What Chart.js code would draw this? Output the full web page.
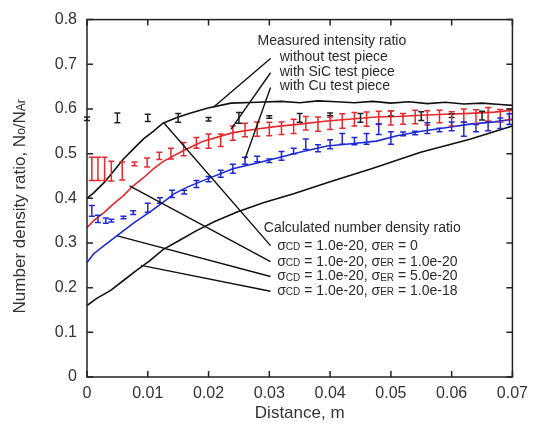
<!DOCTYPE html>
<html>
<head>
<meta charset="utf-8">
<script src="https://cdn.jsdelivr.net/npm/chart.js@4.4.1/dist/chart.umd.min.js"></script>
<style>
body { margin: 0; background: #fff; }
</style>
</head>
<body>
<canvas id="c" width="535" height="433"></canvas>
<script>
// calculated number density ratio (sigmaCD = 1.0e-20)
var calcEr0_x = [0, 0.0011, 0.0028, 0.0044, 0.006, 0.0076, 0.0093, 0.0109, 0.0125, 0.0148, 0.0168, 0.0199, 0.0237, 0.028, 0.032, 0.035, 0.038, 0.041, 0.044, 0.047, 0.05, 0.053, 0.056, 0.059, 0.062, 0.065, 0.068, 0.07];
var calcEr0_y = [0.40, 0.412, 0.435, 0.461, 0.488, 0.51, 0.533, 0.55, 0.568, 0.581, 0.59, 0.602, 0.613, 0.615, 0.617, 0.614, 0.618, 0.616, 0.614, 0.617, 0.613, 0.616, 0.612, 0.615, 0.611, 0.613, 0.61, 0.608];

var calcEr1_x = [0, 0.0011, 0.0028, 0.0044, 0.006, 0.0076, 0.0093, 0.0109, 0.0125, 0.0159, 0.019, 0.024, 0.028, 0.0313, 0.035, 0.0395, 0.043, 0.0476, 0.051, 0.055, 0.059, 0.063, 0.067, 0.07];
var calcEr1_y = [0.334, 0.35, 0.368, 0.388, 0.406, 0.428, 0.446, 0.466, 0.482, 0.507, 0.527, 0.547, 0.555, 0.561, 0.566, 0.573, 0.577, 0.582, 0.583, 0.586, 0.588, 0.59, 0.593, 0.597];

var calcEr5_x = [0, 0.0011, 0.0028, 0.0049, 0.0077, 0.0106, 0.0132, 0.0143, 0.0165, 0.019, 0.024, 0.028, 0.0313, 0.035, 0.0395, 0.0435, 0.0476, 0.051, 0.055, 0.059, 0.063, 0.067, 0.07];
var calcEr5_y = [0.256, 0.276, 0.294, 0.316, 0.345, 0.372, 0.398, 0.41, 0.425, 0.439, 0.466, 0.479, 0.49, 0.503, 0.517, 0.522, 0.528, 0.54, 0.55, 0.558, 0.566, 0.571, 0.577];

var calcEr100_x = [0, 0.0016, 0.0039, 0.006, 0.0081, 0.0104, 0.0125, 0.0151, 0.0178, 0.021, 0.0248, 0.029, 0.034, 0.04, 0.0468, 0.0549, 0.063, 0.07];
var calcEr100_y = [0.16, 0.176, 0.194, 0.216, 0.238, 0.261, 0.285, 0.305, 0.326, 0.348, 0.37, 0.39, 0.41, 0.437, 0.466, 0.503, 0.532, 0.562];

// measured intensity ratio
var noPiece_x = [0, 0.005, 0.01, 0.015, 0.02, 0.025, 0.03, 0.035, 0.04, 0.045, 0.05, 0.055, 0.06, 0.065];
var noPiece_y = [0.578, 0.58, 0.58, 0.58, 0.577, 0.58, 0.582, 0.58, 0.588, 0.58, 0.59, 0.584, 0.585, 0.585];
var noPiece_err = [0.004, 0.011, 0.008, 0.01, 0.004, 0.012, 0.003, 0.01, 0.003, 0.01, 0.006, 0.01, 0.004, 0.01];

var sic_x = [0.0008, 0.0018, 0.0029, 0.004, 0.0058, 0.0078, 0.0099, 0.0119, 0.0138, 0.0159, 0.018, 0.020, 0.022, 0.024, 0.026, 0.028, 0.030, 0.032, 0.034, 0.036, 0.038, 0.040, 0.042, 0.044, 0.046, 0.048, 0.050, 0.052, 0.054, 0.056, 0.058, 0.060, 0.062, 0.064, 0.066, 0.068, 0.0695];
var sic_y = [0.466, 0.466, 0.466, 0.461, 0.461, 0.477, 0.48, 0.495, 0.5, 0.51, 0.524, 0.528, 0.53, 0.546, 0.553, 0.555, 0.555, 0.557, 0.561, 0.568, 0.566, 0.568, 0.573, 0.577, 0.577, 0.58, 0.58, 0.578, 0.582, 0.58, 0.583, 0.578, 0.585, 0.582, 0.588, 0.585, 0.588];
var sic_err = [0.026, 0.026, 0.026, 0.022, 0.02, 0.004, 0.01, 0.008, 0.012, 0.015, 0.012, 0.016, 0.014, 0.016, 0.015, 0.016, 0.015, 0.014, 0.016, 0.015, 0.016, 0.014, 0.016, 0.015, 0.016, 0.015, 0.016, 0.012, 0.015, 0.016, 0.014, 0.016, 0.015, 0.016, 0.015, 0.014, 0.012];

var cu_x = [0.0008, 0.0018, 0.0031, 0.004, 0.006, 0.0076, 0.01, 0.012, 0.014, 0.016, 0.018, 0.020, 0.022, 0.024, 0.026, 0.028, 0.030, 0.032, 0.034, 0.036, 0.038, 0.040, 0.042, 0.044, 0.046, 0.048, 0.050, 0.052, 0.054, 0.056, 0.058, 0.060, 0.062, 0.064, 0.066, 0.068, 0.0695];
var cu_y = [0.372, 0.354, 0.35, 0.35, 0.357, 0.368, 0.379, 0.395, 0.41, 0.414, 0.432, 0.443, 0.455, 0.466, 0.484, 0.488, 0.484, 0.495, 0.506, 0.521, 0.512, 0.521, 0.533, 0.528, 0.533, 0.555, 0.535, 0.544, 0.546, 0.557, 0.553, 0.561, 0.555, 0.557, 0.561, 0.568, 0.577];
var cu_err = [0.012, 0.008, 0.006, 0.003, 0.003, 0.002, 0.01, 0.006, 0.008, 0.002, 0.008, 0.006, 0.008, 0.01, 0.008, 0.006, 0.004, 0.01, 0.006, 0.012, 0.008, 0.01, 0.012, 0.008, 0.012, 0.012, 0.014, 0.002, 0.004, 0.012, 0.004, 0.01, 0.016, 0.008, 0.01, 0.012, 0.012];

var RED = "#e8282c";
var BLUE = "#1e2ad6";
var TXT = "#2a2a2a";

function pts(xs, ys) {
    var out = [];
    for (var i = 0; i < xs.length; i++) out.push({x: xs[i], y: ys[i]});
    return out;
}

// annotation texts and leader lines, in data units
var measuredTitle = {x: 0.0403, y: 0.751, text: "Measured intensity ratio"};
var measuredLabels = [
    {x: 0.0317, y: 0.715, text: "without test piece"},
    {x: 0.0317, y: 0.683, text: "with SiC test piece"},
    {x: 0.0317, y: 0.650, text: "with Cu test piece"}
];
var calcTitle = {x: 0.0291, y: 0.334, text: "Calculated number density ratio"};
var calcLabels = [
    {x: 0.0313, y: 0.294, er: "0"},
    {x: 0.0313, y: 0.258, er: "1.0e-20"},
    {x: 0.0313, y: 0.225, er: "5.0e-20"},
    {x: 0.0313, y: 0.192, er: "1.0e-18"}
];
var leaders = [
    [0.0302, 0.713, 0.0208, 0.604],
    [0.0302, 0.681, 0.0237, 0.555],
    [0.0302, 0.648, 0.0260, 0.488],
    [0.0302, 0.294, 0.0127, 0.568],
    [0.0302, 0.258, 0.0070, 0.428],
    [0.0302, 0.225, 0.0050, 0.316],
    [0.0302, 0.192, 0.0089, 0.250]
];

function lineSet(xs, ys, color) {
    return {data: pts(xs, ys), showLine: true, borderColor: color, borderWidth: 1.6, pointRadius: 0, tension: 0};
}
function errSet(xs, ys, errs, color) {
    return {data: pts(xs, ys), showLine: false, pointRadius: 0, borderColor: color, errors: errs};
}

var drawExtras = {
    id: "extras",
    afterDatasetsDraw: function(chart) {
        var ctx = chart.ctx;
        var xs = chart.scales.x, ys = chart.scales.y;
        ctx.save();
        chart.data.datasets.forEach(function(ds) {
            if (!ds.errors) return;
            ctx.strokeStyle = ds.borderColor;
            ctx.lineWidth = 1.5;
            ds.data.forEach(function(p, i) {
                var px = xs.getPixelForValue(p.x);
                var top = ys.getPixelForValue(p.y + ds.errors[i]);
                var bot = ys.getPixelForValue(p.y - ds.errors[i]);
                if (bot - top < 2) { top -= 1; bot += 1; }
                ctx.beginPath();
                ctx.moveTo(px, top); ctx.lineTo(px, bot);
                ctx.moveTo(px - 3, top); ctx.lineTo(px + 3, top);
                ctx.moveTo(px - 3, bot); ctx.lineTo(px + 3, bot);
                ctx.stroke();
            });
        });
        ctx.restore();
    },
    afterDraw: function(chart) {
        var ctx = chart.ctx;
        var xs = chart.scales.x, ys = chart.scales.y;
        var a = chart.chartArea;
        ctx.save();
        // frame and inward ticks
        ctx.strokeStyle = "#222";
        ctx.lineWidth = 1.5;
        ctx.strokeRect(a.left, a.top, a.right - a.left, a.bottom - a.top);
        ctx.beginPath();
        xs.ticks.forEach(function(t) {
            var px = xs.getPixelForValue(t.value);
            ctx.moveTo(px, a.bottom); ctx.lineTo(px, a.bottom - 6);
            ctx.moveTo(px, a.top); ctx.lineTo(px, a.top + 6);
        });
        ys.ticks.forEach(function(t) {
            var py = ys.getPixelForValue(t.value);
            ctx.moveTo(a.left, py); ctx.lineTo(a.left + 6, py);
            ctx.moveTo(a.right, py); ctx.lineTo(a.right - 6, py);
        });
        ctx.stroke();

        // leader lines
        ctx.strokeStyle = "#111";
        ctx.lineWidth = 1.4;
        ctx.beginPath();
        leaders.forEach(function(l) {
            ctx.moveTo(xs.getPixelForValue(l[0]), ys.getPixelForValue(l[1]));
            ctx.lineTo(xs.getPixelForValue(l[2]), ys.getPixelForValue(l[3]));
        });
        ctx.stroke();

        // annotation texts
        ctx.fillStyle = TXT;
        ctx.textBaseline = "middle";
        ctx.font = "14px 'Liberation Sans', Arial, sans-serif";
        ctx.textAlign = "center";
        ctx.fillText(measuredTitle.text, xs.getPixelForValue(measuredTitle.x), ys.getPixelForValue(measuredTitle.y));
        ctx.textAlign = "left";
        measuredLabels.forEach(function(m) {
            ctx.fillText(m.text, xs.getPixelForValue(m.x), ys.getPixelForValue(m.y));
        });
        ctx.fillText(calcTitle.text, xs.getPixelForValue(calcTitle.x), ys.getPixelForValue(calcTitle.y));
        calcLabels.forEach(function(c) {
            var x = xs.getPixelForValue(c.x), y = ys.getPixelForValue(c.y);
            var parts = [["σ", 14, 0], ["CD", 10, 1.5], [" = 1.0e-20, ", 14, 0], ["σ", 14, 0], ["ER", 10, 1.5], [" = " + c.er, 14, 0]];
            parts.forEach(function(p) {
                ctx.font = p[1] + "px 'Liberation Sans', Arial, sans-serif";
                ctx.fillText(p[0], x, y + p[2]);
                x += ctx.measureText(p[0]).width;
            });
        });

        // axis titles
        ctx.font = "17px 'Liberation Sans', Arial, sans-serif";
        ctx.textAlign = "center";
        ctx.fillStyle = "#333";
        ctx.fillText("Distance, m", (a.left + a.right) / 2, 413);

        ctx.translate(20, (a.top + a.bottom) / 2 + 8);
        ctx.rotate(-Math.PI / 2);
        var yparts = [["Number density ratio, N", 17, 0], ["o", 12, 2], ["/N", 17, 0], ["Ar", 12, 2]];
        var total = 0;
        yparts.forEach(function(p) {
            ctx.font = p[1] + "px 'Liberation Sans', Arial, sans-serif";
            total += ctx.measureText(p[0]).width;
        });
        ctx.textAlign = "left";
        var cx = -total / 2;
        yparts.forEach(function(p) {
            ctx.font = p[1] + "px 'Liberation Sans', Arial, sans-serif";
            ctx.fillText(p[0], cx, p[2]);
            cx += ctx.measureText(p[0]).width;
        });
        ctx.restore();
    }
};

var ctx = document.getElementById("c");
var chart = new Chart(ctx, {
    type: "scatter",
    data: {
        datasets: [
            lineSet(calcEr0_x, calcEr0_y, "#111"),
            lineSet(calcEr1_x, calcEr1_y, RED),
            lineSet(calcEr5_x, calcEr5_y, BLUE),
            lineSet(calcEr100_x, calcEr100_y, "#111"),
            errSet(noPiece_x, noPiece_y, noPiece_err, "#222"),
            errSet(sic_x, sic_y, sic_err, RED),
            errSet(cu_x, cu_y, cu_err, BLUE)
        ]
    },
    options: {
        responsive: false,
        animation: false,
        devicePixelRatio: 1,
        layout: {padding: {top: 18, right: 17, left: 0, bottom: 0}},
        plugins: {legend: {display: false}, tooltip: {enabled: false}},
        scales: {
            x: {
                type: "linear", min: 0, max: 0.07,
                grid: {display: false, drawTicks: false},
                border: {display: false},
                ticks: {
                    stepSize: 0.01, padding: 7, color: "#333", maxRotation: 0,
                    font: {size: 16, family: "'Liberation Sans', Arial, sans-serif"},
                    callback: function(v) { return v === 0 ? "0" : v.toFixed(2); }
                },
                afterFit: function(s) { s.height = 56; }
            },
            y: {
                type: "linear", min: 0, max: 0.8,
                grid: {display: false, drawTicks: false},
                border: {display: false},
                ticks: {
                    stepSize: 0.1, padding: 10, color: "#333",
                    font: {size: 16, family: "'Liberation Sans', Arial, sans-serif"},
                    callback: function(v) { return v === 0 ? "0" : v.toFixed(1); }
                },
                afterFit: function(s) { s.width = 87; }
            }
        }
    },
    plugins: [drawExtras]
});
</script>
</body>
</html>
